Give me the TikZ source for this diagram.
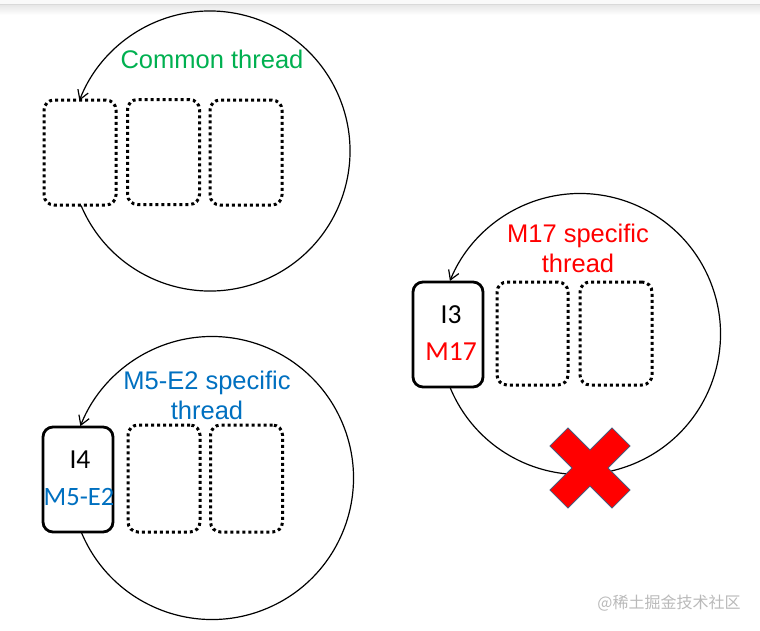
\documentclass[tikz,border=0pt]{standalone}
\usepackage{fontspec}
\setmainfont{Liberation Sans}
\newfontfamily\calfont{Carlito}
\newfontfamily\cjkfont{Noto Sans CJK SC}
\usetikzlibrary{arrows.meta}
\definecolor{cgreen}{HTML}{00B050}
\definecolor{cblue}{HTML}{0070C0}
\definecolor{cred}{HTML}{FF0000}
\definecolor{xedge}{HTML}{4A5A7A}
\begin{document}
\begin{tikzpicture}[x=1pt,y=1pt,
  slot/.style={draw=black, rounded corners=10pt, line width=3pt, dash pattern=on 3pt off 3pt, minimum width=72pt, minimum height=105pt, inner sep=0pt},
  busy/.style={draw=black, rounded corners=10pt, line width=2.8pt, fill=white, minimum width=70pt, minimum height=105pt, inner sep=0pt},
  loop/.style={line width=1.2pt, -{Straight Barb[length=9pt,width=11pt,line width=1.2pt]}},
  title/.style={font=\fontsize{25.5}{30}\selectfont, align=center, inner sep=0pt},
  boxtext/.style={font=\calfont\fontsize{27.5}{30}\selectfont, inner sep=0pt}
]
\useasboundingbox (0,0) rectangle (760,-630);
% top browser band
\fill[gray!5] (0,0) rectangle (760,-4);
\fill[gray!30] (0,-4) rectangle (760,-5.5);
\shade[top color=gray!18, bottom color=white] (0,-5.5) rectangle (760,-15);

% ---- Common thread ----
\coordinate (c1) at (210,-151);
\draw[loop] ([shift={(202.9:140)}]c1) arc[start angle=202.9, end angle=518.9, radius=140];
\node[slot, fill=white] (b11) at (80,-152.5) {};
\node[slot] (b12) at (163.5,-152) {};
\node[slot] (b13) at (246,-152.5) {};
\node[title, text=cgreen] (t1) at (212,-59) {Common thread};

% ---- M5-E2 specific thread ----
\coordinate (c2) at (212,-478);
\draw[loop] ([shift={(202.6:141.5)}]c2) arc[start angle=202.6, end angle=518.5, radius=141.5];
\node[busy] (i4) at (78,-479.5) {};
\node[boxtext] (i4a) at (80,-460) {I4};
\node[boxtext, font=\calfont\fontsize{26.5}{30}\selectfont, text=cblue] (i4b) at (79,-497) {M5-E2};
\node[slot, minimum height=107pt] (b22) at (164,-478.5) {};
\node[slot, minimum height=107pt] (b23) at (246.5,-478.5) {};
\node[title, text=cblue] (t2) at (207,-395) {M5-E2 specific\\thread};

% ---- M17 specific thread ----
\coordinate (c3) at (580,-334);
\draw[loop] ([shift={(202.6:140.5)}]c3) arc[start angle=202.6, end angle=517.8, radius=140.5];
\node[busy] (i3) at (448,-334.5) {};
\node[boxtext] (i3a) at (451,-315) {I3};
\node[boxtext, text=cred] (i3b) at (451,-352) {M17};
\node[slot, minimum height=103pt, minimum width=71pt] (b32) at (532.5,-333.5) {};
\node[slot, minimum height=103pt] (b33) at (616,-333.5) {};
\node[title, text=cred] (t3) at (578,-248) {M17 specific\\thread};

% red cross
\begin{scope}[shift={(590,-468)}, rotate=45]
\filldraw[fill=cred, draw=xedge, line width=0.8pt]
  (43.9,12.7) -- (12.7,12.7) -- (12.7,43.9) -- (-12.7,43.9) -- (-12.7,12.7) -- (-43.9,12.7)
  -- (-43.9,-12.7) -- (-12.7,-12.7) -- (-12.7,-43.9) -- (12.7,-43.9) -- (12.7,-12.7) -- (43.9,-12.7) -- cycle;
\end{scope}

% watermark
\node[font=\cjkfont\fontsize{16}{18}\selectfont, text=gray!55, inner sep=0pt] (wm) at (669,-603) {@稀土掘金技术社区};
\end{tikzpicture}
\end{document}
